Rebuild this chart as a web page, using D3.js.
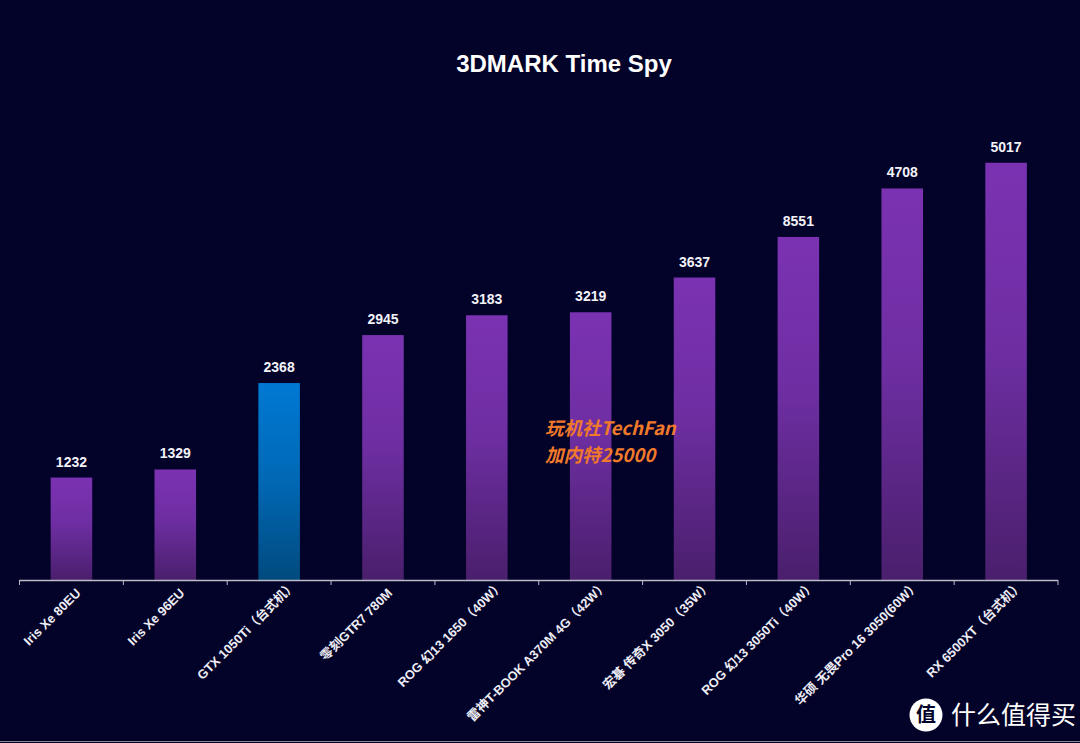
<!DOCTYPE html>
<html><head><meta charset="utf-8">
<script src="https://cdn.jsdelivr.net/npm/d3@7"></script>
<style>html,body{margin:0;padding:0;background:#030229;}svg{display:block;}</style>
</head><body>
<script>
const categories = ["Iris Xe 80EU","Iris Xe 96EU","GTX 1050Ti（台式机）","零刻GTR7 780M","ROG 幻13 1650（40W）","雷神T-BOOK A370M 4G（42W）","宏碁 传奇X 3050（35W）","ROG 幻13 3050Ti（40W）","华硕 无畏Pro 16 3050(60W）","RX 6500XT（台式机）"];
const values = [1232, 1329, 2368, 2945, 3183, 3219, 3637, 4125, 4708, 5017];
const valueLabels = ["1232","1329","2368","2945","3183","3219","3637","8551","4708","5017"];
const highlight = [false,false,true,false,false,false,false,false,false,false];
const yMax = 6000;

const W = 1080, H = 743;
const svg = d3.select("body").append("svg").attr("width", W).attr("height", H);
svg.append("rect").attr("width", W).attr("height", H).attr("fill", "#030229");

const defs = svg.append("defs");
const gp = defs.append("linearGradient").attr("id","gPurple").attr("x1",0).attr("y1",0).attr("x2",0).attr("y2",1);
gp.append("stop").attr("offset","0%").attr("stop-color","#7B32B2");
gp.append("stop").attr("offset","45%").attr("stop-color","#6E2EA2");
gp.append("stop").attr("offset","100%").attr("stop-color","#4A1F6C");
const gb = defs.append("linearGradient").attr("id","gBlue").attr("x1",0).attr("y1",0).attr("x2",0).attr("y2",1);
gb.append("stop").attr("offset","0%").attr("stop-color","#0079D4");
gb.append("stop").attr("offset","50%").attr("stop-color","#0068B4");
gb.append("stop").attr("offset","100%").attr("stop-color","#004A7E");

const x = d3.scaleBand().domain(categories).range([19.5, 1058]).paddingInner(0.6).paddingOuter(0.3);
const y = d3.scaleLinear().domain([0, yMax]).range([580, 81]);

svg.append("text").attr("x", 564).attr("y", 72).attr("text-anchor","middle")
  .attr("fill","#ffffff").attr("font-family","Liberation Sans, Arial, sans-serif")
  .attr("font-weight","bold").attr("font-size", 24).text("3DMARK Time Spy");

const bars = svg.append("g");
bars.selectAll("rect").data(categories).join("rect")
  .attr("x", d => x(d)).attr("width", x.bandwidth())
  .attr("y", (d,i) => y(values[i])).attr("height", (d,i) => y(0) - y(values[i]))
  .attr("fill", (d,i) => highlight[i] ? "url(#gBlue)" : "url(#gPurple)");

bars.selectAll("text").data(categories).join("text")
  .attr("x", d => x(d) + x.bandwidth()/2)
  .attr("y", (d,i) => y(values[i]) - 11)
  .attr("text-anchor","middle").attr("fill","#F2F2F8")
  .attr("font-family","Liberation Sans, Arial, sans-serif").attr("font-weight","bold")
  .attr("font-size", 14).text((d,i) => valueLabels[i]);

// axis
const xAxisBoundary = d3.scaleLinear().domain([0, categories.length]).range([19.5, 1058]);
const axis = svg.append("g");
axis.append("line").attr("x1", 19.5).attr("x2", 1058).attr("y1", 580.5).attr("y2", 580.5)
  .attr("stroke","#BDBDC8").attr("stroke-width", 1.5);
axis.selectAll("line.tick").data(d3.range(categories.length + 1)).join("line").attr("class","tick")
  .attr("x1", d => xAxisBoundary(d)).attr("x2", d => xAxisBoundary(d))
  .attr("y1", 580).attr("y2", 585).attr("stroke","#BDBDC8").attr("stroke-width",1);

axis.selectAll("text").data(categories).join("text")
  .attr("transform", d => `translate(${x(d) + x.bandwidth()/2 + 10},${594}) rotate(-45)`)
  .attr("dx", d => d.endsWith("）") ? 11 : 0)
  .attr("text-anchor","end").attr("fill","#EDEDF5")
  .attr("font-family","Liberation Sans, Arial, 'Noto Sans CJK SC', sans-serif").attr("font-weight","bold")
  .attr("font-size", 12.8).text(d => d);

// watermark text in middle
const wm = svg.append("g").attr("font-family","'Noto Sans CJK SC', sans-serif")
  .attr("font-style","italic").attr("font-weight","bold").attr("fill","#F07A2A").attr("font-size",18.5);
wm.append("text").attr("x", 545).attr("y", 435).text("玩机社TechFan");
wm.append("text").attr("x", 545).attr("y", 462).text("加内特25000");

// logo bottom right
const logo = svg.append("g");
logo.append("circle").attr("cx", 926).attr("cy", 715).attr("r", 16.5).attr("fill","#ffffff");
logo.append("text").attr("x", 926).attr("y", 722).attr("text-anchor","middle")
  .attr("font-family","'Noto Sans CJK SC', sans-serif").attr("font-weight","bold")
  .attr("font-size", 20).attr("fill","#030229").text("值");
logo.append("text").attr("x", 951).attr("y", 724).attr("font-family","'Noto Sans CJK SC', sans-serif")
  .attr("font-size", 25).attr("fill","#ffffff").text("什么值得买");

svg.append("line").attr("x1",0).attr("x2",W).attr("y1",741.5).attr("y2",741.5).attr("stroke","#8A8A95").attr("stroke-width",1);
</script>
</body></html>
